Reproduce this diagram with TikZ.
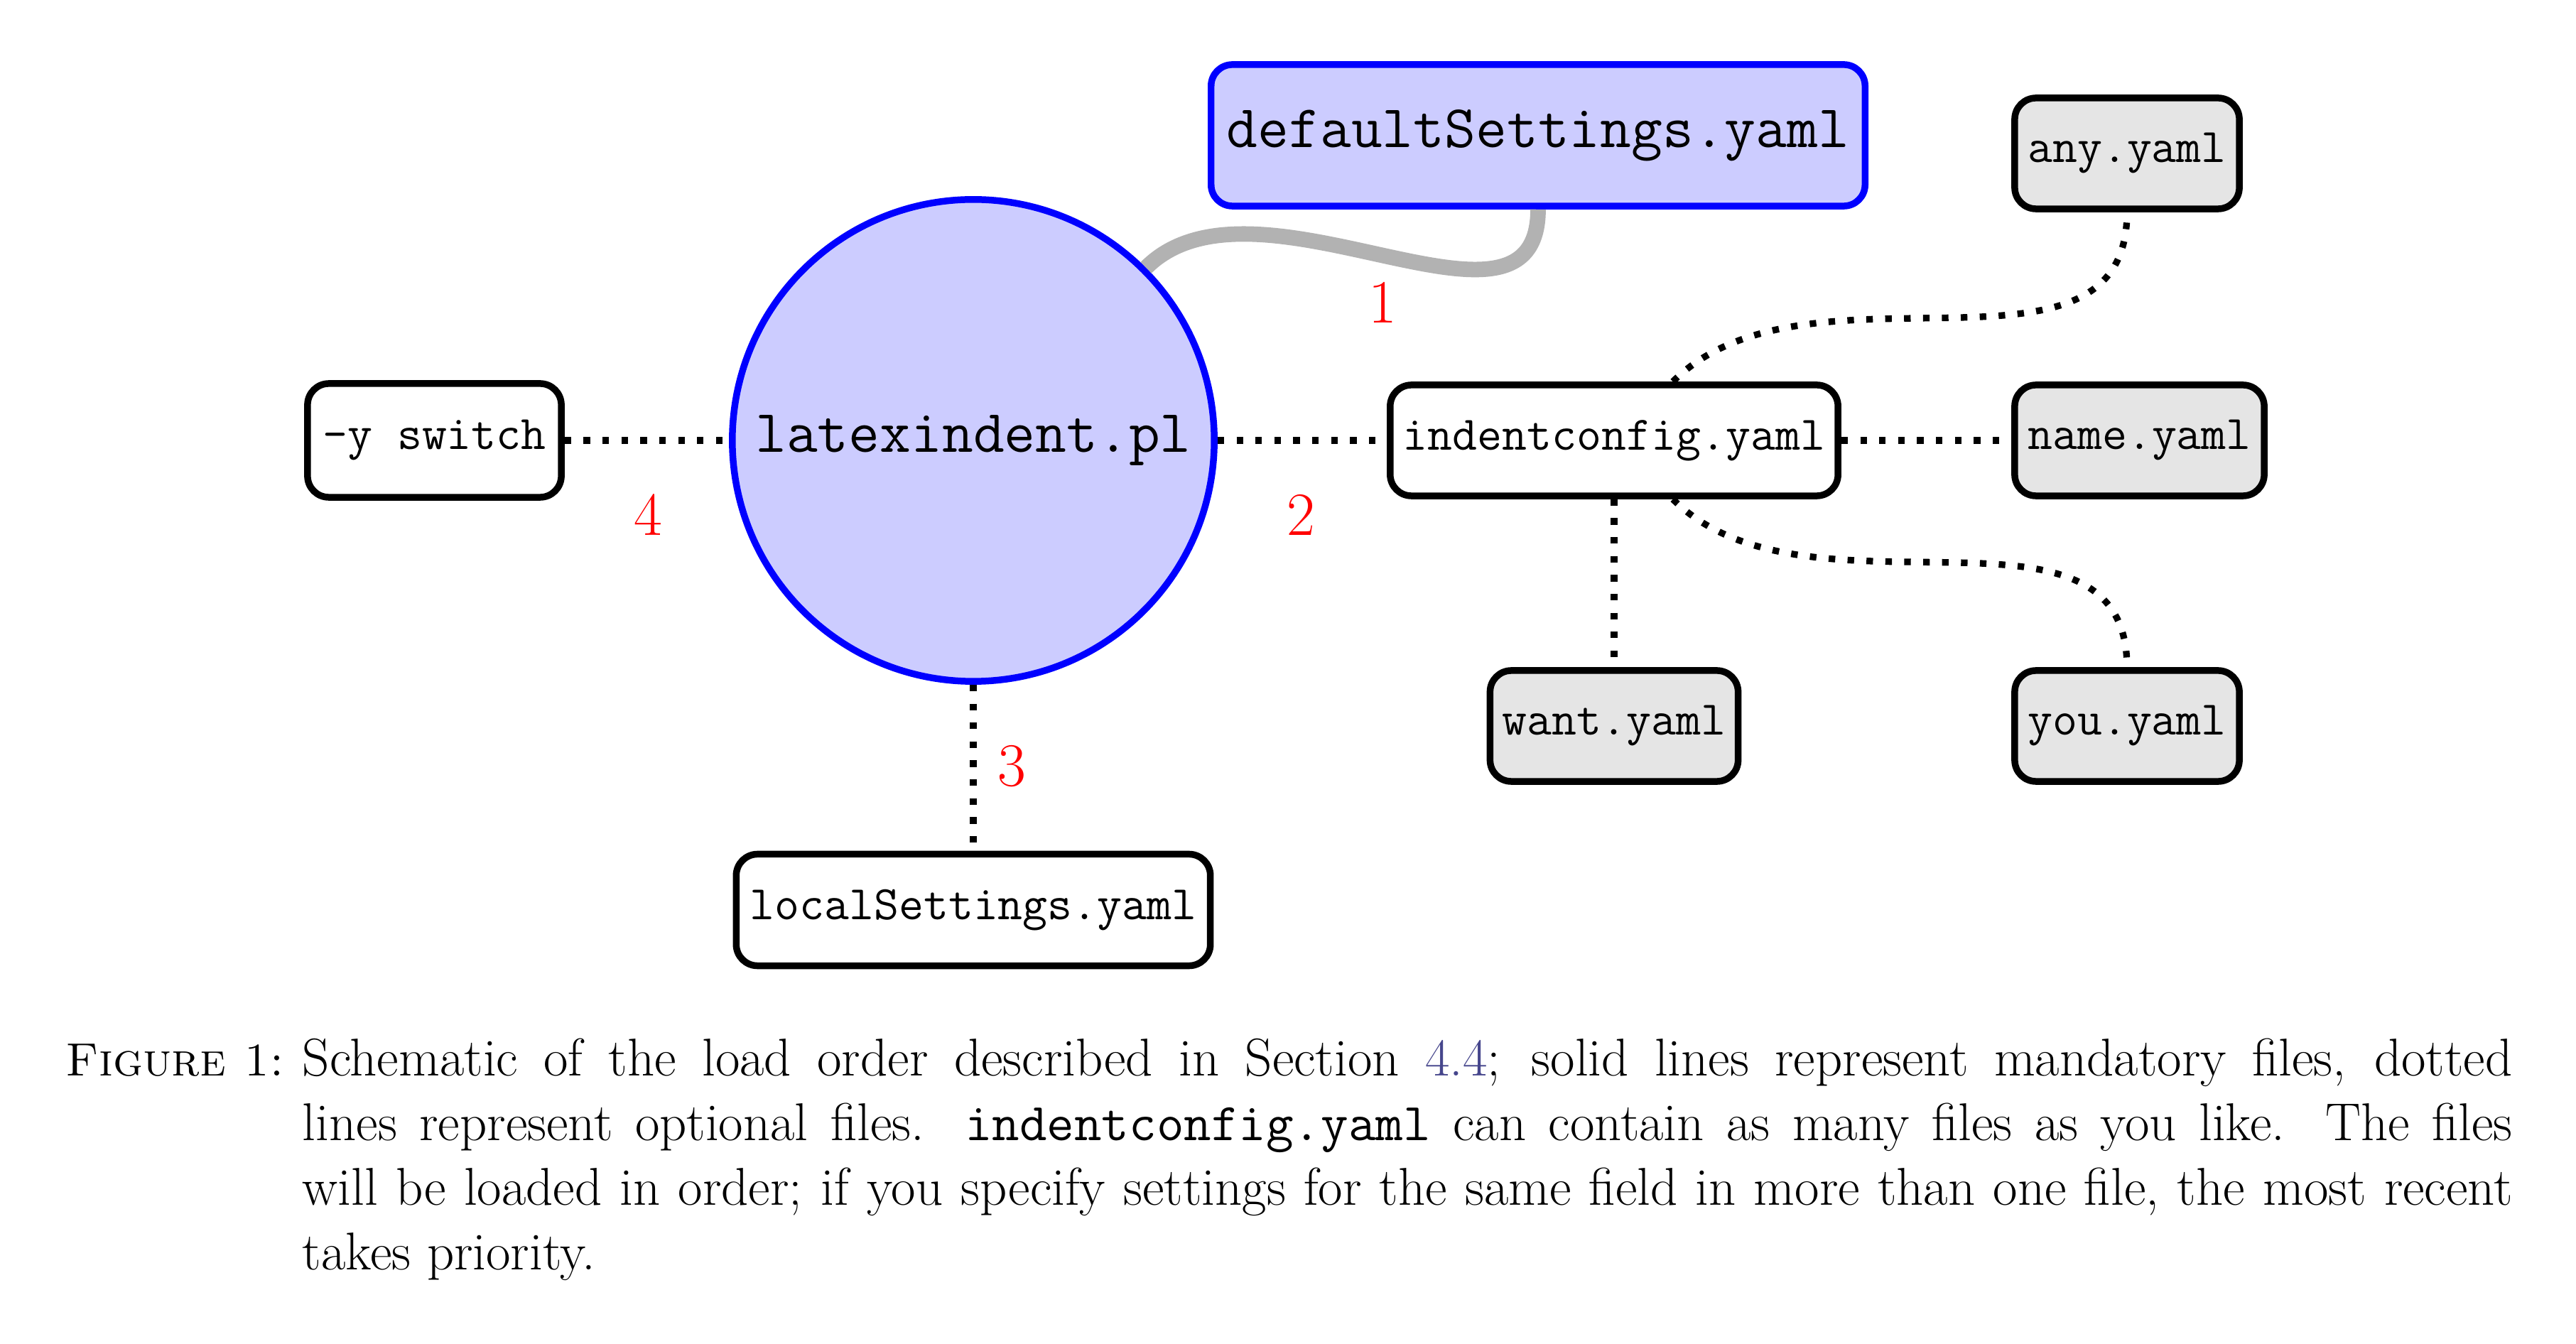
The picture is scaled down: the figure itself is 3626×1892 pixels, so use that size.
\documentclass[tikz,border=0pt]{standalone}
\usepackage{xcolor}
\definecolor{linkcol}{RGB}{70,70,140}
\begin{document}
\begin{tikzpicture}[x=0.01cm,y=0.01cm,
  box/.style={draw=black, line width=2.7pt, rounded corners=0.3cm, inner sep=0pt,
    align=center, minimum height=1.56cm, font=\fontsize{19.3}{23}\ttfamily},
  needed/.style={draw=blue, fill=blue!20, line width=2.7pt, inner sep=0pt,
    font=\fontsize{24.2}{29}\ttfamily},
  optfill/.style={fill=black!10},
  conn/.style={line width=2.64pt, dash pattern=on 2.64pt off 4.93pt},
  mand/.style={draw=black!30, line width=6.2pt},
  num/.style={text=red, inner sep=0pt, font=\fontsize{24.6}{30}\selectfont}]
\useasboundingbox (0,0) rectangle (3626,-1892);

% nodes
\node[needed, circle, minimum size=6.78cm] (latex) at (1370,-620) {latexindent.pl};
\node[needed, rounded corners=0.3cm, minimum width=9.2cm, minimum height=1.99cm] (default) at (2165,-190.5) {defaultSettings.yaml};
\node[box, minimum width=3.57cm, minimum height=1.6cm] (yswitch) at (611.5,-620) {-y switch};
\node[box, minimum width=6.30cm] (indentconfig) at (2272,-620) {indentconfig.yaml};
\node[box, optfill, minimum width=3.51cm] (name) at (3011.5,-620) {name.yaml};
\node[box, optfill, minimum width=3.16cm] (any) at (2994,-216) {any.yaml};
\node[box, optfill, minimum width=3.49cm] (want) at (2272,-1022) {want.yaml};
\node[box, optfill, minimum width=3.16cm] (you) at (2994,-1022) {you.yaml};
\node[box, minimum width=6.67cm, minimum height=1.57cm] (local) at (1370,-1281) {localSettings.yaml};

% connectors
\draw[mand] (latex) to[out=45, in=-90] (default);
\draw[conn] (yswitch) -- (latex);
\draw[conn] (latex) -- (indentconfig);
\draw[conn] (latex) -- (local);
\draw[conn] (indentconfig) -- (name);
\draw[conn] (indentconfig) -- (want);
\draw[conn] (indentconfig) to[out=45, in=-90] (any);
\draw[conn] (indentconfig) to[out=-45, in=90] (you);

% numbers
\node[num] (n1) at (1946,-426) {1};
\node[num] (n2) at (1831,-724.5) {2};
\node[num] (n3) at (1424.5,-1079) {3};
\node[num] (n4) at (912,-725) {4};

% caption
\node[anchor=base west, inner sep=0pt, font=\fontsize{21.3}{25.9}\selectfont] (cap) at (92,-1514)
{\parbox[t]{34.42cm}{\hangindent=3.33cm\hangafter=1\noindent\makebox[3.33cm][l]{\fontsize{18.7}{25.9}\selectfont\textsc{Figure 1:}}Schematic of the load order described in Section \textcolor{linkcol}{4.4}; solid lines represent mandatory files, dotted\linebreak lines represent optional files. \texttt{indentconfig.yaml} can contain as many files as you like. The files\linebreak will be loaded in order; if you specify settings for the same field in more than one file, the most recent\linebreak takes priority.}};
\end{tikzpicture}
\end{document}
